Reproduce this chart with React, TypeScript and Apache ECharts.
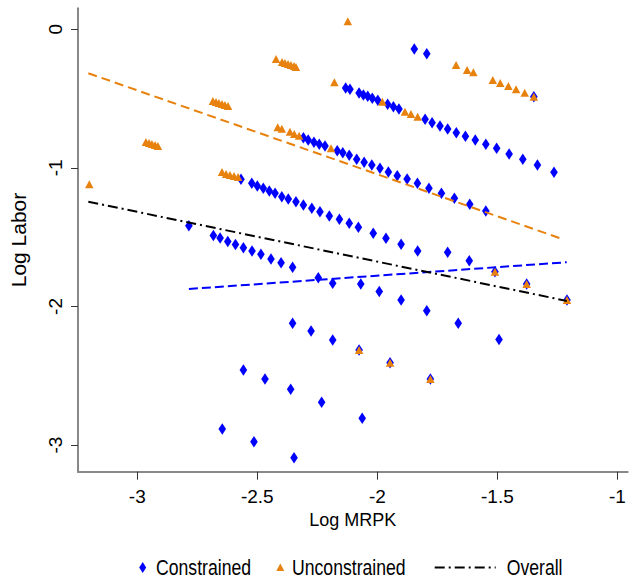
import React, { useEffect, useRef } from "react";
import * as echarts from "echarts";

// ---- Data ----
const constrained: [number, number][] = [
  // top pair
  [-1.846, -0.142], [-1.794, -0.176],
  // line 1
  [-2.132, -0.424], [-2.114, -0.433], [-2.076, -0.46], [-2.058, -0.474], [-2.04, -0.484],
  [-2.021, -0.498], [-1.998, -0.512], [-1.957, -0.541], [-1.933, -0.559], [-1.91, -0.575],
  [-1.801, -0.649], [-1.772, -0.674], [-1.739, -0.698], [-1.707, -0.719], [-1.671, -0.746],
  [-1.633, -0.772], [-1.592, -0.799], [-1.548, -0.83], [-1.503, -0.859], [-1.451, -0.9],
  [-1.394, -0.938], [-1.333, -0.979], [-1.264, -1.032], [-1.348, -0.486],
  // line 2
  [-2.308, -0.782], [-2.288, -0.799], [-2.264, -0.815], [-2.242, -0.83], [-2.218, -0.842],
  [-2.167, -0.876], [-2.144, -0.891], [-2.117, -0.909], [-2.086, -0.938], [-2.055, -0.96],
  [-2.023, -0.979], [-1.989, -1.003], [-1.954, -1.03], [-1.917, -1.057], [-1.876, -1.08],
  [-1.833, -1.111], [-1.785, -1.147], [-1.733, -1.184], [-1.679, -1.22], [-1.615, -1.263],
  [-1.548, -1.311],
  // line 3
  [-2.568, -1.083], [-2.523, -1.111], [-2.5, -1.131], [-2.475, -1.147], [-2.45, -1.167],
  [-2.426, -1.184], [-2.398, -1.208], [-2.371, -1.225], [-2.339, -1.244], [-2.308, -1.268],
  [-2.273, -1.292], [-2.239, -1.316], [-2.2, -1.347], [-2.158, -1.371], [-2.117, -1.4],
  [-2.079, -1.429], [-2.017, -1.472], [-1.964, -1.508], [-1.901, -1.552], [-1.832, -1.6],
  [-1.707, -1.609], [-1.617, -1.67],
  // line 4
  [-2.785, -1.417], [-2.683, -1.488], [-2.655, -1.506], [-2.623, -1.531], [-2.591, -1.553],
  [-2.558, -1.576], [-2.522, -1.6], [-2.485, -1.624], [-2.443, -1.658], [-2.401, -1.684],
  [-2.353, -1.718], [-2.246, -1.793], [-2.186, -1.833], [-2.069, -1.838], [-1.992, -1.892],
  [-1.901, -1.954], [-1.794, -2.031], [-1.663, -2.122], [-1.493, -2.239],
  [-1.51, -1.749], [-1.378, -1.838], [-1.21, -1.954],
  // line 5
  [-2.353, -2.122], [-2.276, -2.177], [-2.186, -2.242], [-2.076, -2.314], [-1.947, -2.406],
  [-1.779, -2.524],
  // line 6
  [-2.558, -2.459], [-2.468, -2.524], [-2.361, -2.598], [-2.232, -2.692], [-2.063, -2.807],
  // line 7
  [-2.646, -2.884], [-2.514, -2.976], [-2.347, -3.092],
];

const unconstrained: [number, number][] = [
  [-2.422, -0.214], [-2.397, -0.236], [-2.385, -0.243], [-2.372, -0.25], [-2.36, -0.258],
  [-2.347, -0.265], [-2.339, -0.272],
  [-2.685, -0.517], [-2.672, -0.525], [-2.66, -0.532], [-2.647, -0.539], [-2.635, -0.546],
  [-2.622, -0.554],
  [-2.964, -0.813], [-2.951, -0.821], [-2.939, -0.828], [-2.926, -0.835], [-2.914, -0.842],
  [-3.2, -1.119],
  [-2.415, -0.707], [-2.398, -0.717], [-2.364, -0.739], [-2.346, -0.756], [-2.326, -0.768],
  [-2.647, -1.03], [-2.63, -1.044], [-2.614, -1.051], [-2.597, -1.058], [-2.58, -1.066],
  [-2.179, -0.382], [-2.123, 0.058],
  [-1.979, -0.522], [-1.885, -0.595], [-1.86, -0.611], [-1.832, -0.631], [-2.193, -0.859],
  [-1.672, -0.258], [-1.626, -0.294], [-1.6, -0.31], [-1.519, -0.366], [-1.488, -0.388],
  [-1.454, -0.409], [-1.422, -0.433], [-1.386, -0.458], [-1.348, -0.486],
  [-1.51, -1.749], [-1.378, -1.838], [-1.21, -1.954],
  [-2.076, -2.314], [-1.947, -2.406], [-1.779, -2.524],
];

const fitUnconstrained: [number, number][] = [[-3.204, -0.317], [-1.225, -1.516]];
const fitConstrained: [number, number][] = [[-2.785, -1.874], [-1.211, -1.681]];
const fitOverall: [number, number][] = [[-3.204, -1.244], [-1.211, -1.96]];

const xTicks = [-3, -2.5, -2, -1.5, -1];
const yTicks = [-3, -2, -1, 0];
const legendNames = ["Constrained", "Unconstrained", "Overall"];

const BLUE = "#0000ff";
const ORANGE = "#e8820e";
const FONT = "'Liberation Sans', Arial, sans-serif";

export default function App() {
  const ref = useRef<HTMLDivElement>(null);
  useEffect(() => {
    if (!ref.current) return;
    const chart = echarts.init(ref.current, undefined, { renderer: "svg" });
    const ly = 567.5;
    const legendText = (x: number, text: string) => ({
      type: "text",
      x,
      y: ly,
      scaleX: 0.82,
      style: { text, fontFamily: FONT, fontSize: 21.5, fill: "#000", verticalAlign: "middle" },
    });
    chart.setOption({
      animation: false,
      backgroundColor: "#fff",
      grid: { left: 78, right: 11.3, top: 8.3, bottom: 114.3 },
      xAxis: {
        type: "value",
        min: -3.247,
        max: -0.957,
        name: "Log MRPK",
        nameLocation: "middle",
        nameGap: 39,
        nameTextStyle: { fontFamily: FONT, fontSize: 18, color: "#000" },
        splitLine: { show: false },
        axisLine: { show: true, onZero: false, lineStyle: { color: "#888", width: 2 } },
        axisTick: { show: true, length: 8, customValues: xTicks, lineStyle: { color: "#333", width: 1 } },
        axisLabel: {
          customValues: xTicks,
          formatter: (v: number) => String(v),
          fontFamily: FONT,
          fontSize: 19,
          color: "#000",
          margin: 15,
        },
      },
      yAxis: {
        type: "value",
        min: -3.1925,
        max: 0.1515,
        name: "Log Labor",
        nameLocation: "middle",
        nameGap: 49,
        nameTextStyle: { fontFamily: FONT, fontSize: 21, color: "#000" },
        splitLine: { show: false },
        axisLine: { show: true, onZero: false, lineStyle: { color: "#888", width: 2 } },
        axisTick: { show: true, length: 7, customValues: yTicks, lineStyle: { color: "#333", width: 1 } },
        axisLabel: {
          customValues: yTicks,
          formatter: (v: number) => String(v),
          rotate: 90,
          fontFamily: FONT,
          fontSize: 19,
          color: "#000",
          margin: 13,
        },
      },
      series: [
        {
          name: legendNames[0],
          type: "scatter",
          data: constrained,
          symbol: "diamond",
          symbolSize: [7.6, 11.5],
          itemStyle: { color: BLUE, opacity: 1 },
          z: 2,
        },
        {
          name: legendNames[1],
          type: "scatter",
          data: unconstrained,
          symbol: "triangle",
          symbolSize: [8.5, 8],
          itemStyle: { color: ORANGE, opacity: 1 },
          z: 3,
        },
        {
          type: "line",
          data: fitUnconstrained,
          symbol: "none",
          lineStyle: { color: ORANGE, width: 2, type: [9, 5] },
          z: 4,
        },
        {
          type: "line",
          data: fitConstrained,
          symbol: "none",
          lineStyle: { color: BLUE, width: 2, type: [9, 4] },
          z: 4,
        },
        {
          name: legendNames[2],
          type: "line",
          data: fitOverall,
          symbol: "none",
          lineStyle: { color: "#000", width: 2, type: [10, 4, 2, 4] },
          z: 4,
        },
      ],
      graphic: [
        {
          type: "polygon",
          shape: { points: [[142.7, ly - 5.5], [146.2, ly], [142.7, ly + 5.5], [139.2, ly]] },
          style: { fill: BLUE },
        },
        legendText(156, legendNames[0]),
        {
          type: "polygon",
          shape: { points: [[280.3, ly - 4], [284.3, ly + 3.5], [276.3, ly + 3.5]] },
          style: { fill: ORANGE },
        },
        legendText(292, legendNames[1]),
        {
          type: "line",
          shape: { x1: 434.7, y1: ly, x2: 495.7, y2: ly },
          style: { stroke: "#000", lineWidth: 2, lineDash: [10, 4, 2, 4] },
        },
        legendText(506.7, legendNames[2]),
      ],
    });
    return () => chart.dispose();
  }, []);
  return (
    <div
      ref={ref}
      style={{ position: "fixed", left: 0, top: 0, width: 639, height: 586, background: "#fff" }}
    />
  );
}
